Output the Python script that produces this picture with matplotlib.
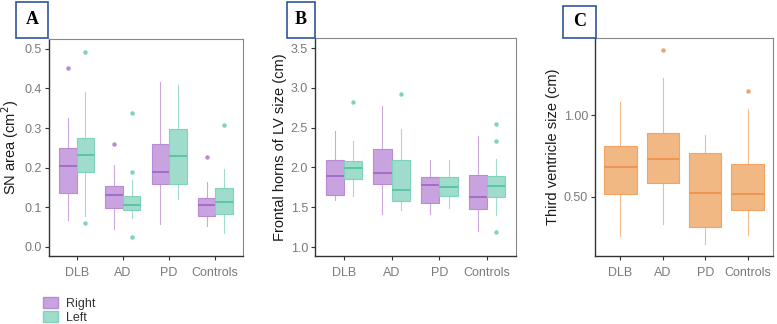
import matplotlib
matplotlib.use("Agg")
import matplotlib.pyplot as plt
from matplotlib.patches import Rectangle, Patch

groups = ["DLB", "AD", "PD", "Controls"]

# panel A: SN area, right / left  (q1, med, q3, whislo, whishi)
sn_right_q1 = [0.135, 0.099, 0.160, 0.078]
sn_right_med = [0.205, 0.131, 0.188, 0.107]
sn_right_q3 = [0.249, 0.154, 0.261, 0.124]
sn_right_lo = [0.067, 0.044, 0.057, 0.053]
sn_right_hi = [0.325, 0.207, 0.417, 0.164]
sn_right_out = [[0.451], [0.259], [], [0.226]]

sn_left_q1 = [0.190, 0.093, 0.160, 0.083]
sn_left_med = [0.232, 0.105, 0.229, 0.114]
sn_left_q3 = [0.275, 0.129, 0.298, 0.148]
sn_left_lo = [0.078, 0.074, 0.120, 0.034]
sn_left_hi = [0.390, 0.170, 0.409, 0.196]
sn_left_out = [[0.492, 0.060], [0.339, 0.188, 0.025], [], [0.307]]

# panel B: frontal horns of LV
lv_right_q1 = [1.653, 1.793, 1.548, 1.476]
lv_right_med = [1.894, 1.927, 1.776, 1.632]
lv_right_q3 = [2.092, 2.227, 1.885, 1.906]
lv_right_lo = [1.590, 1.420, 1.420, 1.200]
lv_right_hi = [2.459, 2.771, 2.088, 2.400]
lv_right_out = [[], [], [], []]

lv_left_q1 = [1.852, 1.582, 1.645, 1.624]
lv_left_med = [1.995, 1.717, 1.759, 1.763]
lv_left_q3 = [2.075, 2.088, 1.885, 1.898]
lv_left_lo = [1.637, 1.468, 1.489, 1.405]
lv_left_hi = [2.328, 2.480, 2.088, 2.100]
lv_left_out = [[2.825], [2.922], [], [2.547, 2.328, 1.194]]

# panel C: third ventricle
tv_q1 = [0.520, 0.586, 0.314, 0.420]
tv_med = [0.682, 0.730, 0.526, 0.516]
tv_q3 = [0.814, 0.890, 0.770, 0.702]
tv_lo = [0.260, 0.334, 0.214, 0.270]
tv_hi = [1.080, 1.224, 0.880, 1.036]
tv_out = [[], [1.396], [], [1.146]]

PURPLE = "#b98bd6"
PURPLE_F = "#c9a3df"
TEAL = "#7fd3bd"
TEAL_F = "#9fdccb"
ORANGE = "#f0a464"
ORANGE_F = "#f2b884"
TICK_C = "#7a7a7a"

plt.rcParams["font.family"] = ["Liberation Sans", "DejaVu Sans"]

W, H = 777, 324
fig = plt.figure(figsize=(W / 100, H / 100), dpi=100)


def add_ax(x0, y0, x1, y1):
    return fig.add_axes([x0 / W, 1 - y1 / H, (x1 - x0) / W, (y1 - y0) / H])


def make_stats(q1, med, q3, lo, hi, out):
    return [dict(q1=a, med=b, q3=c, whislo=d, whishi=e, fliers=f)
            for a, b, c, d, e, f in zip(q1, med, q3, lo, hi, out)]


def draw(ax, stats, pos, width, edge, fill, med_c):
    ax.bxp(stats, positions=pos, widths=width, patch_artist=True,
           showcaps=False, manage_ticks=False,
           boxprops=dict(facecolor=fill, edgecolor=edge, linewidth=0.8),
           medianprops=dict(color=med_c, linewidth=1.4),
           whiskerprops=dict(color=edge, linewidth=0.8, alpha=0.75),
           flierprops=dict(marker="o", markersize=3.2, markerfacecolor=edge,
                           markeredgecolor="none"))


def style(ax, ylim, yticks, ylabels, ylab):
    ax.set_xlim(0.4, 4.6)
    ax.set_ylim(*ylim)
    ax.set_xticks(range(1, 5))
    ax.set_xticklabels(groups, fontsize=9, color=TICK_C)
    ax.set_yticks(yticks)
    ax.set_yticklabels(ylabels, fontsize=9, color=TICK_C)
    ax.tick_params(axis="x", length=3, width=0.8, color="#333333", pad=5)
    ax.tick_params(axis="y", length=3, width=0.8, color="#333333", pad=2)
    for s in ["top", "right"]:
        ax.spines[s].set_color("#888888")
        ax.spines[s].set_linewidth(0.8)
    for s in ["left", "bottom"]:
        ax.spines[s].set_color("#333333")
        ax.spines[s].set_linewidth(1.0)
    ax.set_ylabel(ylab, fontsize=10.5, color="#1a1a1a", labelpad=3)


def tag(x0, y0, x1, y1, letter):
    fig.patches.append(Rectangle((x0 / W, 1 - y1 / H), (x1 - x0) / W, (y1 - y0) / H,
                                 transform=fig.transFigure, fill=False,
                                 edgecolor="#2f5597", linewidth=1.2))
    fig.text((x0 + x1) / 2 / W, 1 - (y0 + y1) / 2 / H, letter, ha="center", va="center",
             fontsize=13, fontweight="bold", family="Liberation Serif")


pos = [1, 2, 3, 4]
left_pos = [p - 0.19 for p in pos]
right_pos = [p + 0.19 for p in pos]

# A
axA = add_ax(49, 39, 243, 256)
draw(axA, make_stats(sn_right_q1, sn_right_med, sn_right_q3, sn_right_lo, sn_right_hi, sn_right_out),
     left_pos, 0.38, PURPLE, PURPLE_F, "#a56cc8")
draw(axA, make_stats(sn_left_q1, sn_left_med, sn_left_q3, sn_left_lo, sn_left_hi, sn_left_out),
     right_pos, 0.38, TEAL, TEAL_F, "#5cc4a8")
style(axA, (-0.023, 0.525), [0, 0.1, 0.2, 0.3, 0.4, 0.5],
      ["0.0", "0.1", "0.2", "0.3", "0.4", "0.5"], "SN area (cm$^2$)")

# B
axB = add_ax(315, 38, 516, 256)
draw(axB, make_stats(lv_right_q1, lv_right_med, lv_right_q3, lv_right_lo, lv_right_hi, lv_right_out),
     left_pos, 0.38, PURPLE, PURPLE_F, "#a56cc8")
draw(axB, make_stats(lv_left_q1, lv_left_med, lv_left_q3, lv_left_lo, lv_left_hi, lv_left_out),
     right_pos, 0.38, TEAL, TEAL_F, "#5cc4a8")
style(axB, (0.887, 3.626), [1.0, 1.5, 2.0, 2.5, 3.0, 3.5],
      ["1.0", "1.5", "2.0", "2.5", "3.0", "3.5"], "Frontal horns of LV size (cm)")

# C
axC = add_ax(595, 38, 773, 256)
draw(axC, make_stats(tv_q1, tv_med, tv_q3, tv_lo, tv_hi, tv_out),
     pos, 0.76, ORANGE, ORANGE_F, "#ee9550")
style(axC, (0.14, 1.47), [0.5, 1.0], ["0.50", "1.00"], "Third ventricle size (cm)")

tag(16, 2, 48, 38, "A")
tag(287, 2, 315, 38, "B")
tag(563, 6, 596, 38, "C")

# legend
handles = [Patch(facecolor=PURPLE_F, edgecolor=PURPLE), Patch(facecolor=TEAL_F, edgecolor=TEAL)]
fig.legend(handles, ["Right", "Left"], loc="lower left", bbox_to_anchor=(32 / W, -0.035),
           frameon=False, fontsize=9, handlelength=1.2, handleheight=1.0,
           labelspacing=0.1, handletextpad=0.6, labelcolor="#333333")

fig.savefig("out.png", dpi=100)
